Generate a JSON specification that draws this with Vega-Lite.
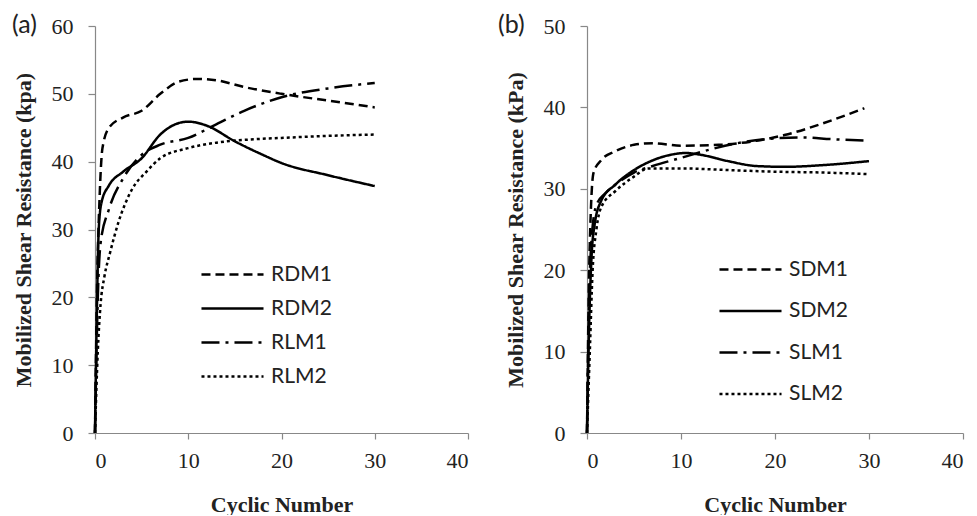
{
  "$schema": "https://vega.github.io/schema/vega-lite/v6.json",
  "background": "white",
  "padding": {"left": 12, "top": 13, "right": 5, "bottom": 0},
  "spacing": 29,
  "datasets": {
    "a": [
      {"s":"RDM1","x":0,"y":0},{"s":"RDM1","x":0.2,"y":20},{"s":"RDM1","x":0.5,"y":35},{"s":"RDM1","x":0.8,"y":42},{"s":"RDM1","x":1.5,"y":45},{"s":"RDM1","x":3,"y":46.5},{"s":"RDM1","x":5,"y":47.5},{"s":"RDM1","x":7,"y":50},{"s":"RDM1","x":9,"y":51.8},{"s":"RDM1","x":11,"y":52.2},{"s":"RDM1","x":13,"y":52},{"s":"RDM1","x":16,"y":51},{"s":"RDM1","x":20,"y":50},{"s":"RDM1","x":25,"y":49},{"s":"RDM1","x":30,"y":48},
      {"s":"RDM2","x":0,"y":0},{"s":"RDM2","x":0.2,"y":18},{"s":"RDM2","x":0.4,"y":30},{"s":"RDM2","x":0.7,"y":34},{"s":"RDM2","x":1.5,"y":36.5},{"s":"RDM2","x":3,"y":38.5},{"s":"RDM2","x":5,"y":40.5},{"s":"RDM2","x":7,"y":44},{"s":"RDM2","x":9,"y":45.7},{"s":"RDM2","x":10,"y":45.9},{"s":"RDM2","x":12,"y":45.3},{"s":"RDM2","x":15,"y":43},{"s":"RDM2","x":18,"y":41},{"s":"RDM2","x":20,"y":39.8},{"s":"RDM2","x":25,"y":38},{"s":"RDM2","x":30,"y":36.4},
      {"s":"RLM1","x":0,"y":0},{"s":"RLM1","x":0.3,"y":20},{"s":"RLM1","x":0.6,"y":28},{"s":"RLM1","x":1.5,"y":33},{"s":"RLM1","x":3,"y":37.5},{"s":"RLM1","x":5,"y":41},{"s":"RLM1","x":7,"y":42.5},{"s":"RLM1","x":10,"y":43.5},{"s":"RLM1","x":13,"y":45.5},{"s":"RLM1","x":16,"y":47.5},{"s":"RLM1","x":20,"y":49.5},{"s":"RLM1","x":25,"y":50.8},{"s":"RLM1","x":30,"y":51.6},
      {"s":"RLM2","x":0,"y":0},{"s":"RLM2","x":0.3,"y":12},{"s":"RLM2","x":0.6,"y":19},{"s":"RLM2","x":1,"y":23},{"s":"RLM2","x":1.6,"y":26.5},{"s":"RLM2","x":2.5,"y":31},{"s":"RLM2","x":4,"y":36},{"s":"RLM2","x":5.5,"y":38.5},{"s":"RLM2","x":7,"y":40.5},{"s":"RLM2","x":10,"y":42},{"s":"RLM2","x":13,"y":42.8},{"s":"RLM2","x":17,"y":43.3},{"s":"RLM2","x":20,"y":43.5},{"s":"RLM2","x":25,"y":43.8},{"s":"RLM2","x":30,"y":44}
    ],
    "b": [
      {"s":"SDM1","x":0,"y":0},{"s":"SDM1","x":0.2,"y":18},{"s":"SDM1","x":0.4,"y":27},{"s":"SDM1","x":0.7,"y":32},{"s":"SDM1","x":1.5,"y":33.5},{"s":"SDM1","x":3,"y":34.6},{"s":"SDM1","x":5,"y":35.4},{"s":"SDM1","x":7,"y":35.6},{"s":"SDM1","x":10,"y":35.3},{"s":"SDM1","x":14,"y":35.4},{"s":"SDM1","x":18,"y":35.9},{"s":"SDM1","x":21,"y":36.6},{"s":"SDM1","x":25,"y":38},{"s":"SDM1","x":29.5,"y":39.9},
      {"s":"SDM2","x":0,"y":0},{"s":"SDM2","x":0.2,"y":12},{"s":"SDM2","x":0.5,"y":22},{"s":"SDM2","x":0.8,"y":25.5},{"s":"SDM2","x":1.5,"y":28.5},{"s":"SDM2","x":3,"y":30.5},{"s":"SDM2","x":5,"y":32.3},{"s":"SDM2","x":7,"y":33.5},{"s":"SDM2","x":9,"y":34.2},{"s":"SDM2","x":10.5,"y":34.4},{"s":"SDM2","x":12,"y":34.2},{"s":"SDM2","x":15,"y":33.4},{"s":"SDM2","x":18,"y":32.8},{"s":"SDM2","x":21,"y":32.7},{"s":"SDM2","x":25,"y":32.9},{"s":"SDM2","x":30,"y":33.4},
      {"s":"SLM1","x":0,"y":0},{"s":"SLM1","x":0.2,"y":15},{"s":"SLM1","x":0.5,"y":24},{"s":"SLM1","x":1,"y":28},{"s":"SLM1","x":2,"y":29.5},{"s":"SLM1","x":3,"y":30.5},{"s":"SLM1","x":5,"y":32},{"s":"SLM1","x":7,"y":32.8},{"s":"SLM1","x":10,"y":33.8},{"s":"SLM1","x":13,"y":34.8},{"s":"SLM1","x":16,"y":35.6},{"s":"SLM1","x":20,"y":36.2},{"s":"SLM1","x":23,"y":36.3},{"s":"SLM1","x":26,"y":36.1},{"s":"SLM1","x":30,"y":35.9},
      {"s":"SLM2","x":0,"y":0},{"s":"SLM2","x":0.3,"y":10},{"s":"SLM2","x":0.6,"y":20},{"s":"SLM2","x":1,"y":25},{"s":"SLM2","x":1.5,"y":27.7},{"s":"SLM2","x":3,"y":29.7},{"s":"SLM2","x":5,"y":31.5},{"s":"SLM2","x":6.5,"y":32.5},{"s":"SLM2","x":10,"y":32.5},{"s":"SLM2","x":15,"y":32.3},{"s":"SLM2","x":20,"y":32.1},{"s":"SLM2","x":25,"y":32},{"s":"SLM2","x":30,"y":31.8}
    ]
  },
  "config": {
    "view": {"stroke": null},
    "axis": {
      "grid": false,
      "domainColor": "#888888",
      "domainWidth": 1.2,
      "tickColor": "#888888",
      "tickWidth": 1.2,
      "labelFont": "Liberation Serif",
      "labelFontSize": 22,
      "labelColor": "#222222",
      "titleFont": "Liberation Serif",
      "titleFontSize": 22,
      "titleFontWeight": "bold",
      "titleColor": "#222222"
    },
    "axisY": {"tickSize": 7, "labelPadding": 15, "titlePadding": 16},
    "axisX": {"tickSize": 6, "labelPadding": 11, "titlePadding": 23},
    "legend": {
      "orient": "none",
      "title": null,
      "padding": 0,
      "symbolType": "M-1.41,0H1.41",
      "symbolSize": 1936,
      "symbolStrokeWidth": 2.5,
      "symbolStrokeColor": "black",
      "symbolFillColor": "transparent",
      "labelFont": "Lato",
      "labelFontSize": 21,
      "labelColor": "#222222",
      "labelOffset": 15
    },
    "title": {"font": "Lato", "fontSize": 25, "fontWeight": "normal", "color": "#222222", "anchor": "start", "frame": "group"}
  },
  "resolve": {"scale": {"strokeDash": "independent"}, "legend": {"strokeDash": "independent"}},
  "hconcat": [
    {
      "width": 373,
      "height": 407,
      "title": {"text": "(a)", "dx": -83, "baseline": "middle", "offset": 0, "dy": 35},
      "data": {"name": "a"},
      "mark": {"type": "line", "interpolate": "monotone", "color": "black", "strokeWidth": 2.5},
      "encoding": {
        "x": {"field": "x", "type": "quantitative", "scale": {"domain": [0, 40]}, "axis": {"values": [0, 10, 20, 30, 40], "title": "Cyclic Number"}},
        "y": {"field": "y", "type": "quantitative", "scale": {"domain": [0, 60]}, "axis": {"values": [0, 10, 20, 30, 40, 50, 60], "title": "Mobilized Shear Resistance (kpa)"}},
        "strokeDash": {
          "field": "s", "type": "nominal",
          "scale": {"domain": ["RDM1", "RDM2", "RLM1", "RLM2"], "range": [[9, 5], [1, 0], [18, 6, 3, 6], [3, 3]]},
          "legend": {"legendX": 114, "legendY": 225, "rowPadding": -0.5}
        }
      }
    },
    {
      "width": 376,
      "height": 407,
      "title": {"text": "(b)", "dx": -89, "baseline": "middle", "offset": 0, "dy": 35},
      "data": {"name": "b"},
      "mark": {"type": "line", "interpolate": "monotone", "color": "black", "strokeWidth": 2.5},
      "encoding": {
        "x": {"field": "x", "type": "quantitative", "scale": {"domain": [0, 40]}, "axis": {"values": [0, 10, 20, 30, 40], "title": "Cyclic Number"}},
        "y": {"field": "y", "type": "quantitative", "scale": {"domain": [0, 50]}, "axis": {"values": [0, 10, 20, 30, 40, 50], "title": "Mobilized Shear Resistance (kPa)"}},
        "strokeDash": {
          "field": "s", "type": "nominal",
          "scale": {"domain": ["SDM1", "SDM2", "SLM1", "SLM2"], "range": [[9, 5], [1, 0], [18, 6, 3, 6], [3, 3]]},
          "legend": {"legendX": 140, "legendY": 220, "rowPadding": 7.5}
        }
      }
    }
  ]
}
